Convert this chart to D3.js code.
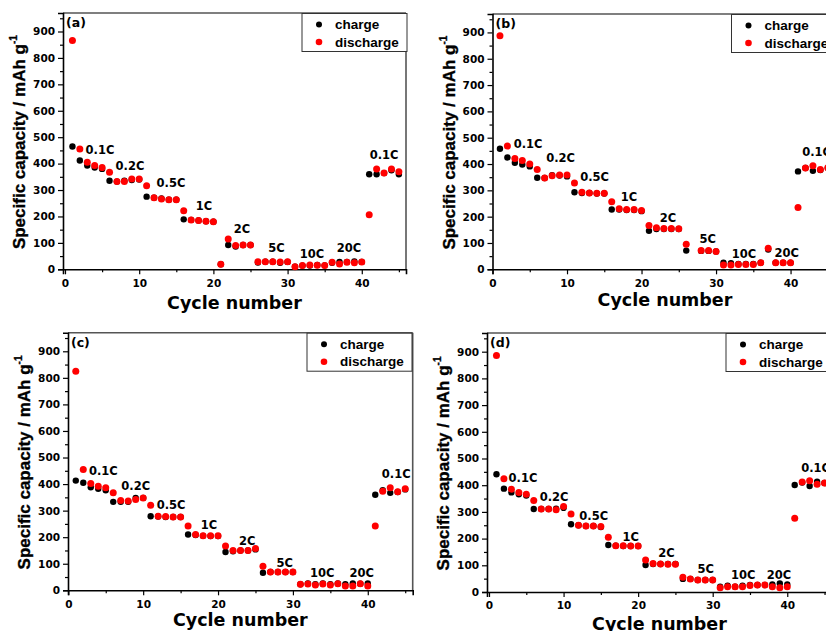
<!DOCTYPE html>
<html>
<head>
<meta charset="utf-8">
<script src="https://cdn.jsdelivr.net/npm/d3@7"></script>
<style>
  html, body { margin: 0; padding: 0; background: #fff; }
  svg { display: block; }
</style>
</head>
<body>
<svg id="chart" width="826" height="631"></svg>
<script>
// ---------------- DATA ----------------
const cycles = [1,2,3,4,5,6,7,8,9,10,11,12,13,14,15,16,17,18,19,20,21,22,23,24,25,26,27,28,29,30,31,32,33,34,35,36,37,38,39,40,41,42,43,44,45];

const aCharge    = [465,412,393,385,380,335,332,335,338,340,275,271,268,263,263,189,187,185,182,180,19,92,86,92,92,26,29,29,25,28,10,14,14,16,15,25,28,28,30,28,360,360,364,375,360];
const aDischarge = [866,455,405,393,385,367,332,332,342,342,316,271,266,263,263,222,187,185,182,180,19,115,90,92,92,29,29,29,28,29,10,14,16,15,14,27,20,27,25,28,206,380,364,380,369];

const bCharge    = [458,425,405,398,391,348,347,358,356,353,293,290,290,288,288,227,227,225,225,221,146,153,153,153,153,71,null,70,70,68,25,23,20,20,20,25,75,25,25,25,372,385,374,377,385];
const bDischarge = [887,468,421,413,400,379,347,355,358,358,328,293,290,289,289,257,230,227,227,223,166,158,155,155,154,95,null,71,71,68,16,16,18,18,18,25,80,25,25,25,235,385,393,379,386];

const cCharge    = [413,405,388,382,377,333,333,333,348,348,279,278,276,276,276,210,208,205,204,204,144,147,150,150,154,66,69,69,69,69,23,26,23,26,23,26,23,26,25,26,360,377,367,370,380];
const cDischarge = [825,455,402,392,386,367,338,336,342,348,320,279,278,276,276,242,210,205,205,205,167,150,150,150,157,91,69,69,69,69,23,24,20,24,20,25,16,16,25,16,242,373,386,371,382];

const dCharge    = [441,387,373,366,361,311,311,311,312,315,254,250,247,247,243,176,173,172,172,172,101,105,105,105,105,49,49,45,45,45,20,24,20,24,26,26,26,28,32,28,401,410,397,413,408];
const dDischarge = [886,424,385,373,366,343,311,311,308,320,292,250,247,247,245,205,173,173,172,172,120,107,105,104,104,55,49,45,45,45,16,20,20,20,24,26,26,20,16,20,276,412,417,404,408];

// rate annotations (anchor in data units: cycle, capacity)
const rateLabels = ["0.1C","0.2C","0.5C","1C","2C","5C","10C","20C","0.1C"];
const aLabelX = [4.72, 8.76, 14.29, 18.73, 23.85, 28.5, 33.3, 38.27, 43.0];
const aLabelY = [451, 391, 327, 240, 153, 81, 58, 81, 433];
const bLabelX = [4.77, 9.13, 13.7, 18.3, 23.56, 28.9, 33.76, 39.5, 43.5];
const bLabelY = [476, 422, 350, 274, 194, 115, 57, 63, 447];
const cLabelX = [4.68, 9.0, 13.73, 18.8, 23.9, 28.9, 33.9, 39.2, 43.8];
const cLabelY = [449, 395, 320, 245, 186, 104, 64, 64, 437];
const dLabelX = [4.56, 8.72, 14.05, 19.0, 23.8, 29.06, 34.1, 38.9, 43.8];
const dLabelY = [428, 356, 285, 206, 145, 85, 63, 66, 466];

const yMajorTicks = [0,100,200,300,400,500,600,700,800,900];
const yMinorTicks = [50,150,250,350,450,550,650,750,850,950];
const xMajorTicks = [0,10,20,30,40];
const xMinorTicks = [5,15,25,35,45];

const seriesNames = ["charge","discharge"];
const panelNames = ["(a)","(b)","(c)","(d)"];
const xTitle = "Cycle number";
const yTitle = "Specific capacity / mAh g";

// ---------------- LAYOUT ----------------
const panels = [
  {name: panelNames[0], left: 63,    top: 13,    width: 343,   height: 256.3, xMin: -0.27, xMax: 45.96, xTitleGap: 40, charge: aCharge, discharge: aDischarge, lx: aLabelX, ly: aLabelY},
  {name: panelNames[1], left: 492.5, top: 14,    width: 345,   height: 255.3, xMin: 0,     xMax: 46.3,  xTitleGap: 37, charge: bCharge, discharge: bDischarge, lx: bLabelX, ly: bLabelY},
  {name: panelNames[2], left: 68,    top: 332.7, width: 344.7, height: 257.6, xMin: -0.04, xMax: 46.0,  xTitleGap: 36, charge: cCharge, discharge: cDischarge, lx: cLabelX, ly: cLabelY},
  {name: panelNames[3], left: 487,   top: 333,   width: 345,   height: 259,   xMin: -0.27, xMax: 46.0,  xTitleGap: 38, charge: dCharge, discharge: dDischarge, lx: dLabelX, ly: dLabelY}
];
const yMax = 970;

const svg = d3.select("#chart");
svg.append("rect").attr("width", 826).attr("height", 631).attr("fill", "#fff");

const tickFont = "'DejaVu Sans', sans-serif";
const arialFont = "'Liberation Sans', Arial, sans-serif";

panels.forEach(p => {
  const g = svg.append("g").attr("transform", `translate(${p.left},${p.top})`);
  const x = d3.scaleLinear().domain([p.xMin, p.xMax]).range([0, p.width]);
  const y = d3.scaleLinear().domain([0, yMax]).range([p.height, 0]);

  // frame top / right
  g.append("line").attr("x1", 0).attr("x2", p.width).attr("y1", 0).attr("y2", 0)
    .attr("stroke", "#555").attr("stroke-width", 1.6);
  g.append("line").attr("x1", p.width).attr("x2", p.width).attr("y1", 0).attr("y2", p.height)
    .attr("stroke", "#555").attr("stroke-width", 1.6);

  // axes
  const yAxis = g.append("g").call(d3.axisLeft(y).tickValues(yMajorTicks).tickSize(5).tickPadding(3).tickFormat(d3.format("d")));
  const yAxisMinor = g.append("g").call(d3.axisLeft(y).tickValues(yMinorTicks).tickSize(3).tickFormat(""));
  const xAxis = g.append("g").attr("transform", `translate(0,${p.height})`)
    .call(d3.axisBottom(x).tickValues(xMajorTicks).tickSize(5).tickPadding(5).tickFormat(d3.format("d")));
  const xAxisMinor = g.append("g").attr("transform", `translate(0,${p.height})`)
    .call(d3.axisBottom(x).tickValues(xMinorTicks).tickSize(3).tickFormat(""));

  [yAxis, yAxisMinor, xAxis, xAxisMinor].forEach(a => {
    a.select(".domain").attr("stroke", "#000").attr("stroke-width", 1.6);
    a.selectAll(".tick line").attr("stroke", "#000").attr("stroke-width", 1.2);
    a.selectAll(".tick text").attr("font-family", tickFont).attr("font-weight", "bold")
      .attr("font-size", 10.5).attr("fill", "#000");
  });
  yAxisMinor.select(".domain").remove();
  xAxisMinor.select(".domain").remove();

  // axis titles
  g.append("text")
    .attr("x", p.width / 2).attr("y", p.height + p.xTitleGap)
    .attr("text-anchor", "middle")
    .attr("font-family", tickFont).attr("font-weight", "bold").attr("font-size", 17.5)
    .attr("fill", "#000").text(xTitle);

  const yt = g.append("text")
    .attr("transform", `translate(-38,${p.height / 2 + 1}) rotate(-90)`)
    .attr("text-anchor", "middle")
    .attr("font-family", arialFont).attr("font-weight", "bold").attr("font-size", 17)
    .attr("fill", "#000").attr("stroke", "#000").attr("stroke-width", 0.35);
  yt.append("tspan").text(yTitle);
  yt.append("tspan").attr("font-size", 10).attr("dy", -8).text("-1");

  // panel label
  g.append("text").attr("x", 3).attr("y", 14)
    .attr("font-family", tickFont).attr("font-weight", "bold").attr("font-size", 12.5)
    .attr("fill", "#000").text(p.name);

  // data points
  const pts = g.append("g");
  pts.selectAll("circle.charge")
    .data(cycles.map((c, i) => ({c, v: p.charge[i]})).filter(d => d.v != null))
    .join("circle").attr("class", "charge")
    .attr("cx", d => x(d.c)).attr("cy", d => y(d.v)).attr("r", 3.2).attr("fill", "#000");
  pts.selectAll("circle.discharge")
    .data(cycles.map((c, i) => ({c, v: p.discharge[i]})).filter(d => d.v != null))
    .join("circle").attr("class", "discharge")
    .attr("cx", d => x(d.c)).attr("cy", d => y(d.v)).attr("r", 3.5).attr("fill", "#ff0000");

  // rate annotations
  g.append("g").selectAll("text")
    .data(rateLabels.map((t, i) => ({t, x: p.lx[i], y: p.ly[i]})))
    .join("text")
    .attr("x", d => x(d.x)).attr("y", d => y(d.y)).attr("dy", "0.36em")
    .attr("text-anchor", "middle")
    .attr("font-family", tickFont).attr("font-weight", "bold").attr("font-size", 11.5)
    .attr("fill", "#000").text(d => d.t);

  // legend
  const lg = g.append("g").attr("transform", `translate(239,0)`);
  lg.append("rect").attr("x", 0).attr("y", 0.5).attr("width", 105).attr("height", 38)
    .attr("fill", "#fff").attr("stroke", "#333").attr("stroke-width", 1);
  const colors = ["#000", "#ff0000"];
  seriesNames.forEach((s, i) => {
    lg.append("circle").attr("cx", 17).attr("cy", 11.5 + i * 17.5).attr("r", i ? 3.3 : 3).attr("fill", colors[i]);
    lg.append("text").attr("x", 33).attr("y", 16 + i * 17.5)
      .attr("font-family", arialFont).attr("font-weight", "bold").attr("font-size", 13.5)
      .attr("fill", "#000").text(s);
  });
});
</script>
</body>
</html>
